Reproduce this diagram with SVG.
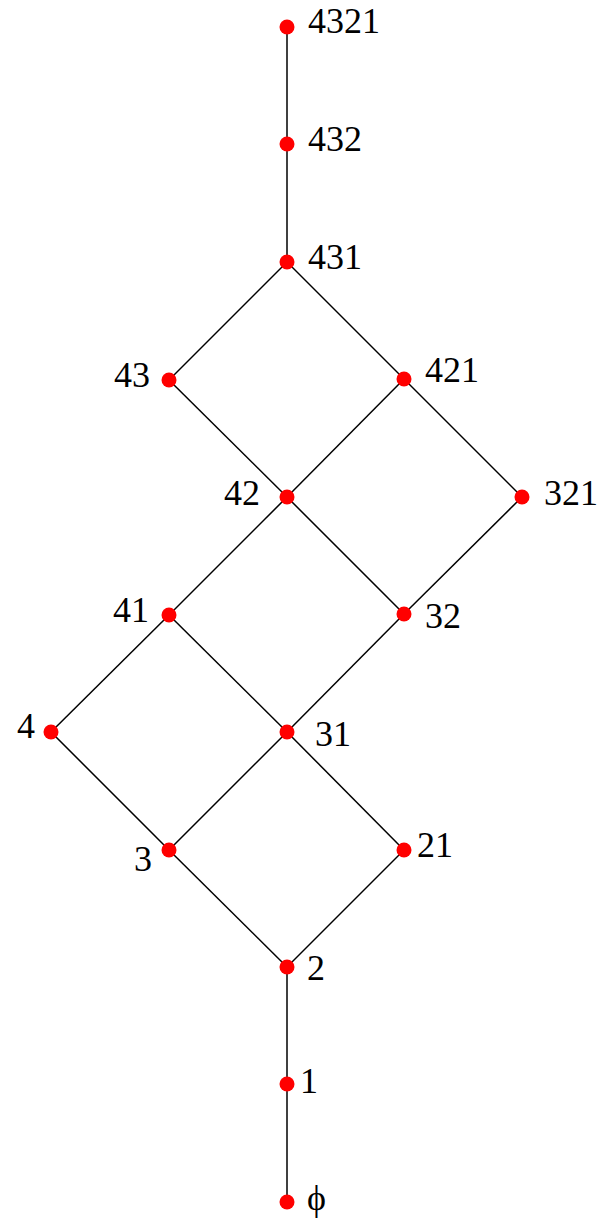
<svg xmlns="http://www.w3.org/2000/svg" width="603" height="1219" viewBox="0 0 603 1219">
<style>
.e{stroke:#000;stroke-width:1.5;fill:none}
.d{fill:#ff0000}
.t{font-family:"Liberation Serif","Times New Roman",serif;font-size:36px;fill:#000}
.l{text-anchor:end}
</style>
<rect width="603" height="1219" fill="#fff"/>
<g id="connectors" class="e">
<line x1="287" y1="27" x2="287" y2="144"/>
<line x1="287" y1="144" x2="287" y2="262"/>
<line x1="287" y1="262" x2="169" y2="380"/>
<line x1="287" y1="262" x2="404" y2="379"/>
<line x1="169" y1="380" x2="287" y2="497"/>
<line x1="404" y1="379" x2="287" y2="497"/>
<line x1="404" y1="379" x2="522" y2="497"/>
<line x1="287" y1="497" x2="169" y2="615"/>
<line x1="287" y1="497" x2="404" y2="614"/>
<line x1="522" y1="497" x2="404" y2="614"/>
<line x1="169" y1="615" x2="51" y2="732"/>
<line x1="169" y1="615" x2="287" y2="732"/>
<line x1="404" y1="614" x2="287" y2="732"/>
<line x1="51" y1="732" x2="169" y2="850"/>
<line x1="287" y1="732" x2="169" y2="850"/>
<line x1="287" y1="732" x2="404" y2="850"/>
<line x1="169" y1="850" x2="287" y2="967"/>
<line x1="404" y1="850" x2="287" y2="967"/>
<line x1="287" y1="967" x2="287" y2="1084"/>
<line x1="287" y1="1084" x2="287" y2="1202"/>
</g>
<g id="n4321"><circle class="d" cx="287" cy="27" r="7.5"/><text class="t" x="308" y="33">4321</text></g>
<g id="n432"><circle class="d" cx="287" cy="144" r="7.5"/><text class="t" x="308" y="151">432</text></g>
<g id="n431"><circle class="d" cx="287" cy="262" r="7.5"/><text class="t" x="308" y="269">431</text></g>
<g id="n43"><circle class="d" cx="169" cy="380" r="7.5"/><text class="t l" x="150" y="387">43</text></g>
<g id="n421"><circle class="d" cx="404" cy="379" r="7.5"/><text class="t" x="425" y="382">421</text></g>
<g id="n42"><circle class="d" cx="287" cy="497" r="7.5"/><text class="t l" x="260" y="505">42</text></g>
<g id="n321"><circle class="d" cx="522" cy="497" r="7.5"/><text class="t" x="544" y="505">321</text></g>
<g id="n41"><circle class="d" cx="169" cy="615" r="7.5"/><text class="t l" x="149" y="622">41</text></g>
<g id="n32"><circle class="d" cx="404" cy="614" r="7.5"/><text class="t" x="425" y="628">32</text></g>
<g id="n4"><circle class="d" cx="51" cy="732" r="7.5"/><text class="t l" x="35" y="738">4</text></g>
<g id="n31"><circle class="d" cx="287" cy="732" r="7.5"/><text class="t" x="315" y="746">31</text></g>
<g id="n3"><circle class="d" cx="169" cy="850" r="7.5"/><text class="t l" x="152" y="871">3</text></g>
<g id="n21"><circle class="d" cx="404" cy="850" r="7.5"/><text class="t" x="417" y="857">21</text></g>
<g id="n2"><circle class="d" cx="287" cy="967" r="7.5"/><text class="t" x="307" y="980">2</text></g>
<g id="n1"><circle class="d" cx="287" cy="1084" r="7.5"/><text class="t" x="300" y="1093">1</text></g>
<g id="nphi"><circle class="d" cx="287" cy="1202" r="7.5"/><text class="t" x="307" y="1210">ϕ</text></g>
</svg>
